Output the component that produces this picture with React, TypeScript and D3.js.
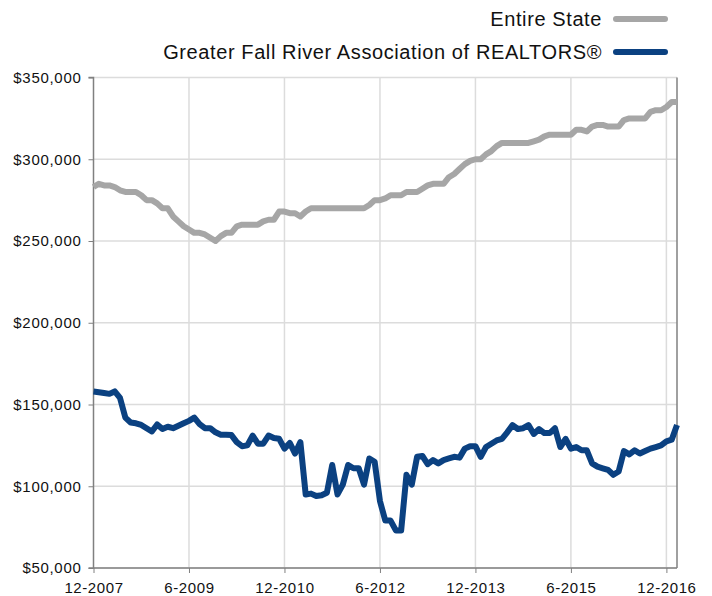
import { useEffect, useRef } from 'react';
import * as d3 from 'd3';

// monthly median prices (in $1000s), 12-2007 .. 2-2017
const stateValues = [
  283, 285, 284, 284, 283, 281, 280, 280, 280, 278, 275, 275, 273, 270, 270, 265, 262, 259, 257, 255,
  255, 254, 252, 250, 253, 255, 255, 259, 260, 260, 260, 260, 262, 263, 263, 268, 268, 267, 267, 265,
  268, 270, 270, 270, 270, 270, 270, 270, 270, 270, 270, 270, 272, 275, 275, 276, 278, 278, 278, 280,
  280, 280, 282, 284, 285, 285, 285, 289, 291, 294, 297, 299, 300, 300, 303, 305, 308, 310, 310, 310,
  310, 310, 310, 311, 312, 314, 315, 315, 315, 315, 315, 318, 318, 317, 320, 321, 321, 320, 320, 320,
  324, 325, 325, 325, 325, 329, 330, 330, 332, 335, 335,
];

const fallRiverValues = [
  158, 157.5, 157, 156.5, 158, 154, 142, 139, 138.5, 137.5, 135.5, 133.5, 137.8, 135, 136.4, 135.5, 137, 138.5, 140, 142,
  138, 135.5, 135.5, 133, 131.5, 131.5, 131.3, 127, 124.5, 125, 131, 126, 126, 131, 129.5, 129, 123, 126.5, 120, 127,
  95, 95.5, 94, 94.5, 96, 113, 95, 101, 113, 111, 111, 101, 117, 115, 91, 79, 79, 73, 73, 107,
  101, 118, 118.5, 113.5, 116, 114, 116, 117, 118, 117.5, 123, 124.5, 124.5, 118, 124, 126, 128, 129, 133, 137.4,
  135, 135.5, 137.4, 132, 135, 132.5, 132.5, 135.5, 124, 129, 123, 124, 122, 122, 114, 112, 111, 110, 107, 109,
  121.5, 119.5, 122, 120, 121.5, 123, 124, 125, 127.5, 128.5, 137.5,
];

const xTickMonths = [0, 18, 36, 54, 72, 90, 108];
const xTickLabels = ['12-2007', '6-2009', '12-2010', '6-2012', '12-2013', '6-2015', '12-2016'];
const yTicks = [50, 100, 150, 200, 250, 300, 350];

const seriesNames = ['Entire State', 'Greater Fall River Association of REALTORS®'];
const seriesColors = ['#a6a6a6', '#0b4181'];

const W = 712;
const H = 596;
const FONT = '"Liberation Sans", Arial, Helvetica, sans-serif';

export default function App() {
  const svgRef = useRef<SVGSVGElement>(null);

  useEffect(() => {
    const svg = d3.select(svgRef.current);
    svg.selectAll('*').remove();

    const left = 93.5;
    const right = 677;
    const top = 77.5;
    const bottom = 568;

    const x = d3.scaleLinear().domain([0, stateValues.length - 1]).range([left, right]);
    const y = d3.scaleLinear().domain([50, 350]).range([bottom, top]);

    // grid
    svg.append('g')
      .selectAll('line.h')
      .data(yTicks)
      .join('line')
      .attr('x1', left).attr('x2', right)
      .attr('y1', d => y(d)).attr('y2', d => y(d))
      .attr('stroke', '#dcdcdc').attr('stroke-width', 1.5);

    svg.append('g')
      .selectAll('line.v')
      .data(xTickMonths.slice(1))
      .join('line')
      .attr('x1', d => x(d)).attr('x2', d => x(d))
      .attr('y1', top).attr('y2', bottom)
      .attr('stroke', '#dcdcdc').attr('stroke-width', 1.5);

    // axes
    const yAxis = d3.axisLeft(y)
      .tickValues(yTicks)
      .tickSize(5)
      .tickPadding(7)
      .tickFormat(d => '$' + d3.format(',')(+d * 1000));
    const gy = svg.append('g').attr('transform', `translate(${left},0)`).call(yAxis);
    gy.select('.domain').attr('stroke', '#808080').attr('stroke-width', 1.5).attr('d', `M-5,${top}H0V${bottom}H-5`);
    gy.selectAll('.tick line').attr('stroke', '#808080');
    gy.selectAll('.tick text')
      .attr('fill', '#111')
      .style('font-family', FONT)
      .style('font-size', '15px')
      .style('letter-spacing', '0.7px');

    const xAxis = d3.axisBottom(x)
      .tickValues(xTickMonths)
      .tickSize(5)
      .tickPadding(9)
      .tickFormat((_, i) => xTickLabels[i]);
    const gx = svg.append('g').attr('transform', `translate(0,${bottom})`).call(xAxis);
    gx.select('.domain').attr('stroke', '#808080').attr('stroke-width', 1.5).attr('d', `M${left},0H${right}`);
    gx.selectAll('.tick line').attr('stroke', '#808080');
    gx.selectAll('.tick text')
      .attr('fill', '#111')
      .style('font-family', FONT)
      .style('font-size', '15px')
      .style('letter-spacing', '0.6px');

    svg.append('line')
      .attr('x1', right).attr('x2', right)
      .attr('y1', top).attr('y2', bottom)
      .attr('stroke', '#808080').attr('stroke-width', 1.5);

    // lines
    const line = d3.line<number>()
      .x((_, i) => x(i))
      .y(d => y(d));

    [stateValues, fallRiverValues].forEach((vals, k) => {
      svg.append('path')
        .datum(vals)
        .attr('d', line)
        .attr('fill', 'none')
        .attr('stroke', seriesColors[k])
        .attr('stroke-width', 6)
        .attr('stroke-linejoin', 'round')
        .attr('stroke-linecap', 'butt');
    });

    // legend
    const legend = svg.append('g');
    seriesNames.forEach((name, k) => {
      const ly = 19 + k * 33;
      legend.append('text')
        .attr('x', 602)
        .attr('y', ly)
        .attr('dy', '0.35em')
        .attr('text-anchor', 'end')
        .attr('fill', '#111')
        .style('font-family', FONT)
        .style('font-size', '20px')
        .style('letter-spacing', '0.6px')
        .text(name);
      legend.append('line')
        .attr('x1', 616).attr('x2', 665)
        .attr('y1', ly).attr('y2', ly)
        .attr('stroke', seriesColors[k])
        .attr('stroke-width', 6)
        .attr('stroke-linecap', 'round');
    });
  }, []);

  return (
    <div style={{ position: 'absolute', left: 0, top: 0 }}>
      <svg ref={svgRef} width={W} height={H} style={{ display: 'block', background: '#fff' }} />
    </div>
  );
}
